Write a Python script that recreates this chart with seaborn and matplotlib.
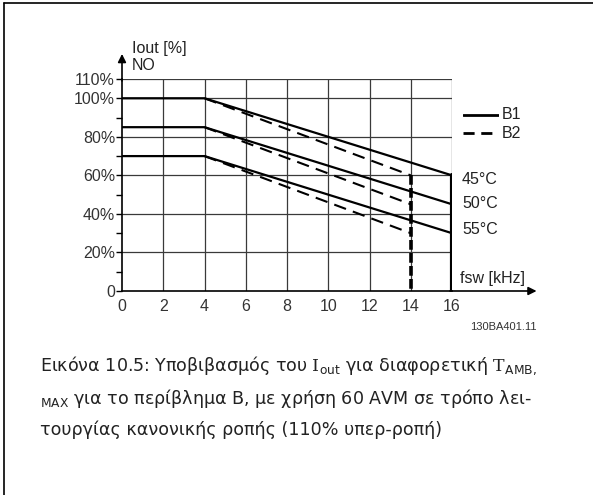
import matplotlib
matplotlib.use("Agg")
import matplotlib.pyplot as plt
import seaborn as sns
import pandas as pd

# chart values
temps = ["45°C", "50°C", "55°C"]
iout_flat = [100, 85, 70]      # current up to the knee
iout_b1_end = [60, 45, 30]     # B1 at 16 kHz
iout_b2_end = [60, 45, 30]     # B2 at 14 kHz
fsw_knee = 4
fsw_b1_max = 16
fsw_b2_max = 14
x_ticks = [0, 2, 4, 6, 8, 10, 12, 14, 16]
y_ticks = [0, 20, 40, 60, 80, 100, 110]
y_labels = ["0", "20%", "40%", "60%", "80%", "100%", "110%"]
y_minor = [10, 30, 50, 70, 90]

rows = []
for t, f, e1, e2 in zip(temps, iout_flat, iout_b1_end, iout_b2_end):
    rows.append(("B1", t, 0, f))
    rows.append(("B1", t, fsw_knee, f))
    rows.append(("B1", t, fsw_b1_max, e1))
    rows.append(("B2", t, fsw_knee, f))
    rows.append(("B2", t, fsw_b2_max, e2))
df = pd.DataFrame(rows, columns=["variant", "temp", "fsw", "iout"])

# cut-off verticals: from the highest curve down to zero
cut = pd.DataFrame({"fsw": [fsw_b1_max, fsw_b1_max, fsw_b2_max, fsw_b2_max],
                    "iout": [iout_b1_end[0], 0, iout_b2_end[0], 0],
                    "variant": ["B1", "B1", "B2", "B2"]})

sns.set_style("white")
plt.rcParams["font.family"] = ["Liberation Sans", "DejaVu Sans"]
plt.rcParams["mathtext.fontset"] = "custom"
plt.rcParams["mathtext.rm"] = "DejaVu Serif"
plt.rcParams["mathtext.sf"] = "DejaVu Sans"

W, H = 593, 495
fig = plt.figure(figsize=(W / 100, H / 100), dpi=100)


def px(x, y):
    return x / W, 1 - y / H


ax = fig.add_axes([122 / W, 1 - 291 / H, 330 / W, 212 / H])

grid_c = "#3a3a3a"
for xv in x_ticks[1:]:
    ax.axvline(xv, color=grid_c, lw=0.9, zorder=1)
for yv in y_ticks[1:]:
    ax.axhline(yv, color=grid_c, lw=0.9, zorder=1)

sns.lineplot(data=df[df.variant == "B1"], x="fsw", y="iout", units="temp",
             estimator=None, sort=False, color="black", lw=1.6, ax=ax, zorder=3)
sns.lineplot(data=df[df.variant == "B2"], x="fsw", y="iout", units="temp",
             estimator=None, sort=False, color="black", lw=1.5, ax=ax, zorder=3)
for ln in ax.lines[-3:]:
    ln.set_linestyle((0, (6, 3.5)))

sns.lineplot(data=cut[cut.variant == "B1"], x="fsw", y="iout", estimator=None,
             sort=False, color="black", lw=3, ax=ax, zorder=4)
sns.lineplot(data=cut[cut.variant == "B2"], x="fsw", y="iout", estimator=None,
             sort=False, color="black", lw=2.6, ax=ax, zorder=4)
ax.lines[-1].set_linestyle((0, (2.7, 0.9)))

ax.set_xlim(0, 16)
ax.set_ylim(0, 110)
ax.set_xticks(x_ticks)
ax.set_yticks(y_ticks)
ax.set_yticks(y_minor, minor=True)
ax.set_xticklabels([str(v) for v in x_ticks], color="#333333", fontsize=11.5)
ax.set_yticklabels(y_labels, color="#333333", fontsize=11.5)
ax.tick_params(axis="x", length=0, pad=6)
ax.tick_params(axis="y", which="major", length=4, width=1, color="black", pad=1, left=True)
ax.tick_params(axis="y", which="minor", length=4, width=1, color="black", left=True)
ax.set_xlabel("")
ax.set_ylabel("")
for s in ["top", "right"]:
    ax.spines[s].set_visible(False)
for s in ["left", "bottom"]:
    ax.spines[s].set_color("black")
    ax.spines[s].set_linewidth(1.2)
    ax.spines[s].set_zorder(5)

# axis arrows
ax.annotate("", xy=(0, 123), xytext=(0, 109), xycoords="data",
            arrowprops=dict(arrowstyle="-|>", color="black", lw=1.2,
                            mutation_scale=12, shrinkA=0, shrinkB=0),
            annotation_clip=False)
ax.annotate("", xy=(20.1, 0), xytext=(15.9, 0), xycoords="data",
            arrowprops=dict(arrowstyle="-|>", color="black", lw=1.2,
                            mutation_scale=12, shrinkA=0, shrinkB=0),
            annotation_clip=False)

tc = "#222222"
fs = 11.5
fig.text(*px(132, 49), "Iout [%]", fontsize=fs, color=tc, va="center")
fig.text(*px(132, 65), "NO", fontsize=fs, color=tc, va="center")
fig.text(*px(460, 278), "fsw [kHz]", fontsize=fs, color=tc, va="center")
for t, yy in zip(temps, [179, 204, 230]):
    fig.text(*px(462, yy), t, fontsize=fs, color=tc, va="center")

# legend drawn as lines
leg = fig.add_axes([463 / W, 1 - 140 / H, 36 / W, 32 / H])
leg.set_xlim(0, 1)
leg.set_ylim(0, 32)
sns.lineplot(x=[0, 1], y=[25, 25], color="black", lw=2, ax=leg)
sns.lineplot(x=[0, 1], y=[7, 7], color="black", lw=2, ax=leg)
leg.lines[-1].set_linestyle((0, (4, 2.4)))
leg.axis("off")
fig.text(*px(502, 115), "B1", fontsize=fs, color=tc, va="center")
fig.text(*px(502, 133), "B2", fontsize=fs, color=tc, va="center")

fig.text(*px(537, 327), "130BA401.11", fontsize=8, color="#333333",
         va="center", ha="right")

cap = dict(fontsize=12.6, color="#222222", va="center", family="DejaVu Sans")
fig.text(*px(40, 366),
         "Εικόνα 10.5: Υποβιβασμός του $\\mathrm{I}_{\\mathsf{out}}$ για διαφορετική $\\mathrm{T}_{\\mathsf{AMB,}}$",
         **cap)
fig.text(*px(40, 399),
         "$_{\\mathsf{MAX}}$ για το περίβλημα B, με χρήση 60 AVM σε τρόπο λει-",
         **cap)
fig.text(*px(40, 430), "τουργίας κανονικής ροπής (110% υπερ-ροπή)", **cap)

# page frame (top and left edges)
fig.add_artist(plt.Line2D([4 / W, 1], [1 - 3 / H, 1 - 3 / H], color="black", lw=1.2))
fig.add_artist(plt.Line2D([4 / W, 4 / W], [0, 1 - 3 / H], color="black", lw=1.2))

fig.savefig("out.png", dpi=100)
